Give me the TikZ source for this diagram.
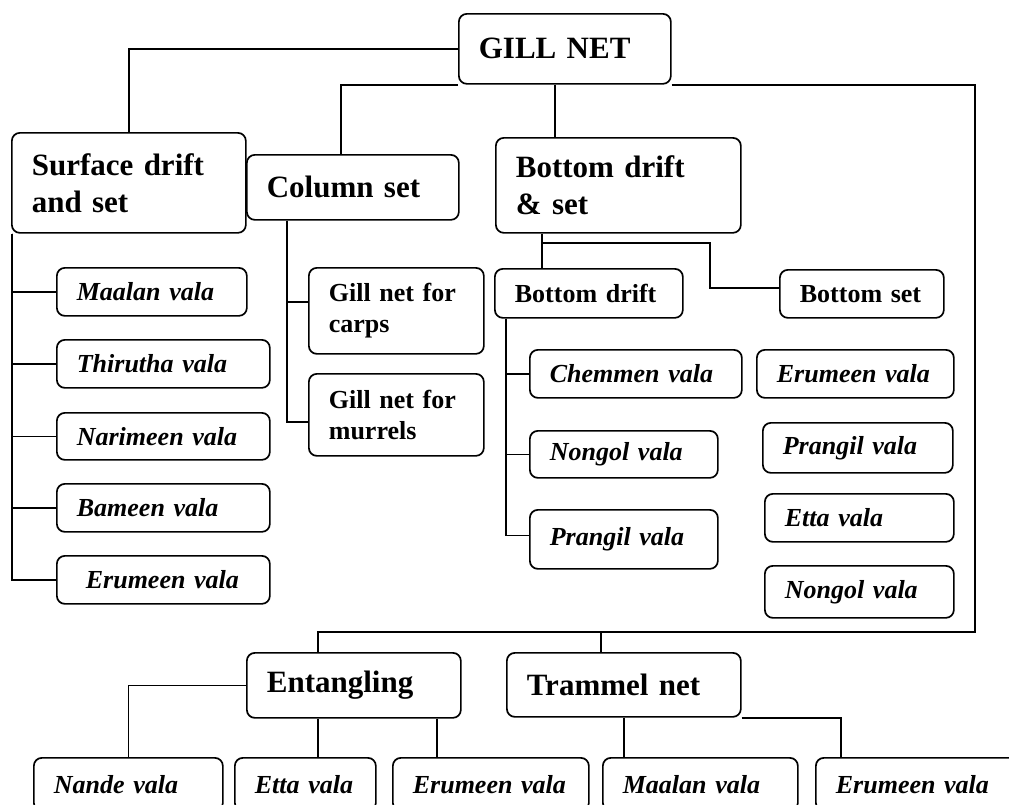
\documentclass[tikz,border=0pt]{standalone}
\usepackage{fontspec}
\setmainfont{Liberation Serif}
\usetikzlibrary{calc}

\begin{document}
\begin{tikzpicture}[x=1pt, y=-1pt,
    box/.style={rectangle, draw=black, line width=1.7pt, rounded corners=8pt, anchor=north west, inner xsep=20pt, inner ysep=0pt, align=left},
    big/.style={box, font=\fontsize{31}{37}\selectfont\bfseries},
    small/.style={box, font=\fontsize{26}{31}\selectfont\bfseries},
    vala/.style={box, font=\fontsize{26}{31}\selectfont\bfseries\itshape},
    link/.style={line width=1.7pt}
]
    \useasboundingbox (0,0) rectangle (1009,804);
    \clip (0,0) rectangle (1009,804);
    \fill[white] (0,0) rectangle (1009,804);

    % main groups
    \node[big, text width=172pt, minimum height=70pt] (gill) at (458,13) {GILL NET};
    \node[big, text width=194pt, minimum height=100pt] (surf) at (11,132) {Surface drift\\and set};
    \node[big, text width=172pt, minimum height=65pt] (col) at (246,154) {Column set};
    \node[big, text width=205pt, minimum height=95pt] (bds) at (495,137) {Bottom drift\\\& set};
    \node[big, text width=174pt, minimum height=65pt] (ent) at (246,652) {Entangling};
    \node[big, text width=194pt, minimum height=64pt] (tram) at (506,652) {Trammel net};

    % surface drift and set
    \node[vala, text width=150pt, minimum height=48pt] (maal1) at (56,267) {Maalan vala};
    \node[vala, text width=173pt, minimum height=48pt] (thir) at (56,339) {Thirutha vala};
    \node[vala, text width=173pt, minimum height=47pt] (nari) at (56,412) {Narimeen vala};
    \node[vala, text width=173pt, minimum height=48pt] (bam) at (56,483) {Bameen vala};
    \node[vala, text width=173pt, minimum height=48pt] (erum1) at (56,555) {\hspace*{9pt}Erumeen vala};

    % column set
    \node[small, text width=135pt, minimum height=86pt] (carps) at (308,267) {Gill net for\\carps};
    \node[small, text width=135pt, minimum height=82pt] (murr) at (308,373) {Gill net for\\murrels};

    % bottom drift and set
    \node[small, text width=148pt, minimum height=49pt] (bdrift) at (494,268) {Bottom drift};
    \node[small, text width=124pt, minimum height=48pt] (bset) at (779,269) {Bottom set};
    \node[vala, text width=172pt, minimum height=48pt] (chem) at (529,349) {Chemmen vala};
    \node[vala, text width=148pt, minimum height=47pt] (nong1) at (529,430) {Nongol vala};
    \node[vala, text width=148pt, minimum height=59pt] (pran1) at (529,509) {Prangil vala};
    \node[vala, text width=157pt, minimum height=48pt] (erum2) at (756,349) {Erumeen vala};
    \node[vala, text width=150pt, minimum height=50pt] (pran2) at (762,422) {Prangil vala};
    \node[vala, text width=149pt, minimum height=48pt] (etta1) at (764,493) {Etta vala};
    \node[vala, text width=149pt, minimum height=52pt] (nong2) at (764,565) {Nongol vala};

    % entangling and trammel
    \node[vala, text width=149pt, minimum height=53pt] (nande) at (33,757) {Nande vala};
    \node[vala, text width=101pt, minimum height=53pt] (etta2) at (234,757) {Etta vala};
    \node[vala, text width=156pt, minimum height=53pt] (erum3) at (392,757) {Erumeen vala};
    \node[vala, text width=155pt, minimum height=53pt] (maal2) at (602,757) {Maalan vala};
    \node[vala, text width=185pt, minimum height=53pt] (erum4) at (815,757) {Erumeen vala};

    \coordinate (bend) at (975,632);
    \coordinate (bsplit) at (542,243);
    \coordinate (bknee) at (710,243);

    % connectors from gill net
    \draw[link] (gill.west) -| (surf.north);
    \draw[link] (gill.south west) -| ([xshift=-12pt]col.north);
    \draw[link] ([xshift=-10pt]gill.south) -- ([xshift=-10pt]gill.south |- bds.north);
    \draw[link] (gill.south east) -| (bend) -| ([xshift=-36pt]ent.north);
    \draw[link] ([xshift=-23pt]tram.north) -- ([xshift=-23pt]tram.north |- bend);

    % surface drift and set
    \draw[link] ([xshift=1pt]surf.south west) |- (maal1.west);
    \draw[link] ([xshift=1pt]surf.south west) |- (thir.west);
    \draw[link] ([xshift=1pt]surf.south west) |- (nari.west);
    \draw[link] ([xshift=1pt]surf.south west) |- (bam.west);
    \draw[link] ([xshift=1pt]surf.south west) |- (erum1.west);

    % column set
    \draw[link] ([xshift=41pt]col.south west) |- ([yshift=9pt]carps.west);
    \draw[link] ([xshift=41pt]col.south west) |- ([yshift=-7pt]murr.west);

    % bottom drift and set
    \draw[link] (bsplit |- bds.south) -- (bsplit |- bdrift.north);
    \draw[link] (bsplit) -- (bknee) |- ([yshift=6pt]bset.west);
    \draw[link] ([xshift=12pt]bdrift.south west) |- (chem.west);
    \draw[link] ([xshift=12pt]bdrift.south west) |- (nong1.west);
    \draw[link] ([xshift=12pt]bdrift.south west) |- ([yshift=4pt]pran1.west);

    % entangling and trammel
    \draw[link] (ent.west) -| (nande.north);
    \draw[link] ([xshift=-36pt]ent.south) -- ([xshift=-36pt]ent.south |- etta2.north);
    \draw[link] ([xshift=-25pt]ent.south east) -- ([xshift=-25pt]ent.south east |- erum3.north);
    \draw[link] (tram.south) -- (tram.south |- maal2.north);
    \draw[link] (tram.south east) -| ([xshift=26pt]erum4.north west);
\end{tikzpicture}
\end{document}
